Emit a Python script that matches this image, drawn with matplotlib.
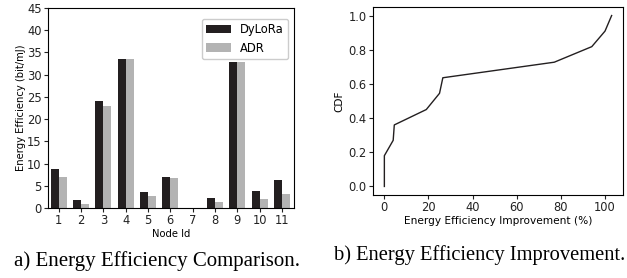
import numpy as np
import matplotlib
matplotlib.use("Agg")
import matplotlib.pyplot as plt

# bar data read from panel a)
nodes = [1, 2, 3, 4, 5, 6, 7, 8, 9, 10, 11]
dylora = [8.7, 1.9, 24.0, 33.5, 3.5, 6.9, 0.1, 2.3, 32.8, 3.9, 6.4]
adr = [6.9, 1.0, 22.9, 33.5, 2.8, 6.7, 0.05, 1.4, 32.8, 2.1, 3.2]

# CDF points read from panel b)
improvement = [0, 0, 0, 4, 4.5, 19, 25, 26.5, 77, 94, 100, 103]
cdf = [0, 0.09, 0.18, 0.27, 0.36, 0.45, 0.545, 0.636, 0.727, 0.818, 0.909, 1.0]

W, H = 627, 278
fig = plt.figure(figsize=(W / 100, H / 100), dpi=100)

def box(l, t, r, b):
    return [l / W, 1 - b / H, (r - l) / W, (b - t) / H]

dark = "#231f20"
light = "#b3b3b3"
tick_fs = 8.3

ax1 = fig.add_axes(box(48, 8, 294, 208))
x = np.array(nodes)
w = 0.36
ax1.bar(x - w / 2, dylora, w, color=dark, label="DyLoRa")
ax1.bar(x + w / 2, adr, w, color=light, label="ADR")
ax1.set_xlim(0.52, 11.54)
ax1.set_ylim(0, 45)
ax1.set_xticks(nodes)
ax1.set_yticks(range(0, 46, 5))
ax1.tick_params(labelsize=tick_fs, length=3, pad=1.5, colors="#222222")
ax1.set_xlabel("Node Id", fontsize=7.2, labelpad=1)
ax1.set_ylabel("Energy Efficiency (bit/mJ)", fontsize=7.2, labelpad=1)
ax1.legend(loc="upper right", fontsize=tick_fs, handlelength=2.1, borderpad=0.4,
           labelspacing=0.45, handletextpad=0.8, framealpha=1,
           bbox_to_anchor=(1.0, 0.975))

ax2 = fig.add_axes(box(373, 7, 623, 195))
ax2.plot(improvement, cdf, color=dark, lw=1.0)
ax2.set_xlim(-5.15, 108.15)
ax2.set_ylim(-0.05, 1.05)
ax2.set_xticks(range(0, 101, 20))
ax2.set_yticks([0.0, 0.2, 0.4, 0.6, 0.8, 1.0])
ax2.tick_params(labelsize=tick_fs, length=3, pad=1.5, colors="#222222")
ax2.set_xlabel("Energy Efficiency Improvement (%)", fontsize=7.6, labelpad=1)
ax2.set_ylabel("CDF", fontsize=7.6, labelpad=3)

for ax in (ax1, ax2):
    for s in ax.spines.values():
        s.set_linewidth(0.8)

fig.text(157 / W, 1 - 261 / H, "a) Energy Efficiency Comparison.", ha="center", va="center",
         family="Liberation Serif", fontsize=15)
fig.text(625 / W, 1 - 255 / H, "b) Energy Efficiency Improvement.", ha="right", va="center",
         family="Liberation Serif", fontsize=14.8)

fig.savefig("out.png", dpi=100)
